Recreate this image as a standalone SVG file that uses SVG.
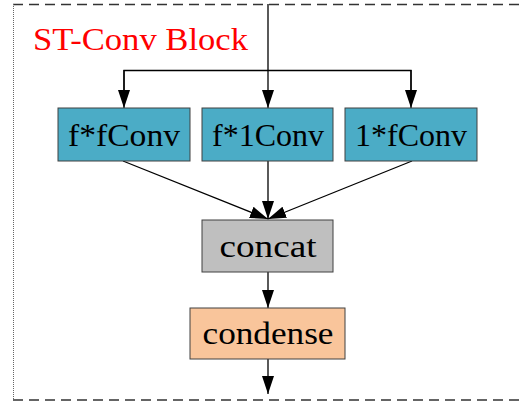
<svg xmlns="http://www.w3.org/2000/svg" width="520" height="407" viewBox="0 0 520 407">
<defs>
<marker id="ah" markerWidth="18" markerHeight="12" refX="18" refY="6" orient="auto" markerUnits="userSpaceOnUse" viewBox="0 0 18 12">
<path d="M0,0 L18,6 L0,12 Z" fill="#000"/>
</marker>
<style>
.box{stroke:#404040;stroke-width:1}
.lbl{font-family:"Liberation Serif","DejaVu Serif",serif;font-size:32px;fill:#000;text-anchor:middle}
.ln{stroke:#000;stroke-width:1.3;fill:none}
.arr{stroke:#000;stroke-width:1.3;fill:none;marker-end:url(#ah)}
</style>
</defs>
<rect width="520" height="407" fill="#fff"/>
<g id="frame">
<line x1="13" y1="4.5" x2="520" y2="4.5" stroke="#333" stroke-width="1.3" stroke-dasharray="10,6"/>
<line x1="13" y1="400" x2="520" y2="400" stroke="#333" stroke-width="1.3" stroke-dasharray="10,6"/>
<line x1="13.5" y1="4" x2="13.5" y2="400" stroke="#666" stroke-width="1" stroke-dasharray="1,1"/>
<text x="33" y="50" font-family="Liberation Serif, DejaVu Serif, serif" font-size="31" fill="#ff0000" textLength="215" lengthAdjust="spacingAndGlyphs">ST-Conv Block</text>
</g>
<g id="connectors">
<line class="arr" x1="268" y1="4" x2="268" y2="108"/>
<polyline class="ln" points="124,95 124,70.5 411,70.5 411,95"/>
<line class="arr" x1="124" y1="70" x2="124" y2="108"/>
<line class="arr" x1="411" y1="70" x2="411" y2="108"/>
<line class="arr" x1="123" y1="161" x2="268" y2="219"/>
<line class="arr" x1="268" y1="161" x2="268" y2="219"/>
<line class="arr" x1="412" y1="161" x2="268" y2="219"/>
<line class="arr" x1="268" y1="272" x2="268" y2="308"/>
<line class="arr" x1="268" y1="359" x2="268" y2="394"/>
</g>
<g id="ffconv">
<rect class="box" x="58" y="108" width="132" height="53" fill="#4bacc6"/>
<text class="lbl" x="124" y="146" textLength="112" lengthAdjust="spacingAndGlyphs">f*fConv</text>
</g>
<g id="f1conv">
<rect class="box" x="202" y="108" width="131" height="53" fill="#4bacc6"/>
<text class="lbl" x="268" y="146" textLength="112" lengthAdjust="spacingAndGlyphs">f*1Conv</text>
</g>
<g id="1fconv">
<rect class="box" x="345" y="108" width="132" height="53" fill="#4bacc6"/>
<text class="lbl" x="411" y="146" textLength="112" lengthAdjust="spacingAndGlyphs">1*fConv</text>
</g>
<g id="concat">
<rect class="box" x="202" y="220" width="131" height="52" fill="#bfbfbf"/>
<text class="lbl" x="268" y="257" textLength="97" lengthAdjust="spacingAndGlyphs">concat</text>
</g>
<g id="condense">
<rect class="box" x="190" y="308" width="155" height="51" fill="#f9c59b"/>
<text class="lbl" x="268" y="344" textLength="131" lengthAdjust="spacingAndGlyphs">condense</text>
</g>
</svg>
